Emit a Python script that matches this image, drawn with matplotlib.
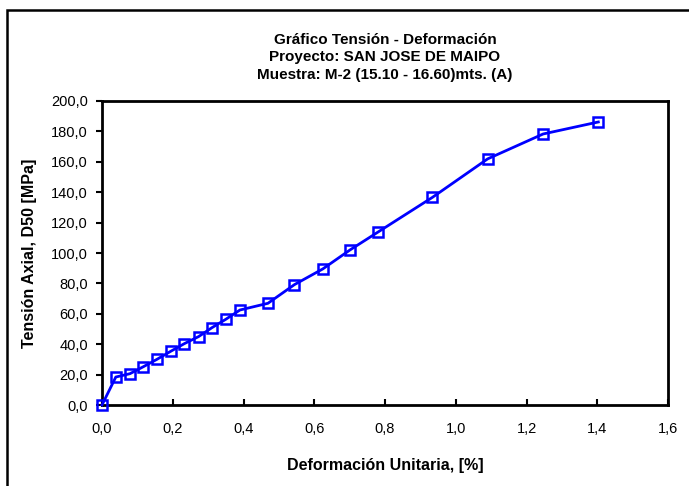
import matplotlib
matplotlib.use("Agg")
import matplotlib.pyplot as plt
import matplotlib.patches as patches
from matplotlib.ticker import FuncFormatter, MultipleLocator

plt.rcParams['font.family'] = ['Liberation Sans', 'DejaVu Sans']

# strain [%] and axial stress [MPa]
deformacion = [0.0, 0.039, 0.079, 0.117, 0.155, 0.194, 0.233, 0.273, 0.311, 0.350,
               0.390, 0.469, 0.544, 0.624, 0.701, 0.779, 0.934, 1.090, 1.247, 1.403]
tension = [0.0, 18.4, 20.6, 25.2, 30.0, 35.3, 40.4, 45.0, 50.9, 56.4,
           62.5, 66.9, 79.2, 89.5, 102.0, 113.6, 136.6, 161.9, 178.3, 186.2]

titulo = ["Gráfico Tensión - Deformación",
          "Proyecto: SAN JOSE DE MAIPO",
          "Muestra: M-2 (15.10 - 16.60)mts. (A)"]

fig = plt.figure(figsize=(6.89, 4.86), dpi=100)
ax = fig.add_axes([102/689, 1 - 405/486, 566/689, 304/486])

ax.plot(deformacion, tension, color='#0000ff', lw=2.0, marker='s', ms=7,
        mfc='none', mec='#0000ff', mew=1.8, clip_on=False, zorder=3)

ax.set_xlim(0, 1.6)
ax.set_ylim(0, 200)
ax.xaxis.set_major_locator(MultipleLocator(0.2))
ax.yaxis.set_major_locator(MultipleLocator(20))
coma = FuncFormatter(lambda v, p: f"{v:.1f}".replace('.', ','))
ax.xaxis.set_major_formatter(coma)
ax.yaxis.set_major_formatter(coma)

ax.tick_params(axis='x', direction='in', length=4, width=1.5, labelsize=10.5, pad=12)
ax.tick_params(axis='y', direction='out', length=4, width=1.5, labelsize=10.5, pad=6)
for s in ax.spines.values():
    s.set_linewidth(2.0)

ax.set_xlabel("Deformación Unitaria, [%]", fontsize=11.5, fontweight='bold', labelpad=16)
ax.set_ylabel("Tensión Axial, D50 [MPa]", fontsize=11.5, fontweight='bold', labelpad=10)

for i, linea in enumerate(titulo):
    fig.text(385/689, 1 - (40 + 17.5*i)/486, linea, ha='center', va='center',
             fontsize=11, fontweight='bold')

# chart frame, running past the right and bottom edges
fig.patches.append(patches.Rectangle((7/689, -0.1), 1.2, 1.1 - 10/486,
                                     transform=fig.transFigure, fill=False,
                                     edgecolor='black', lw=1.8))

fig.savefig("out.png", dpi=100)
